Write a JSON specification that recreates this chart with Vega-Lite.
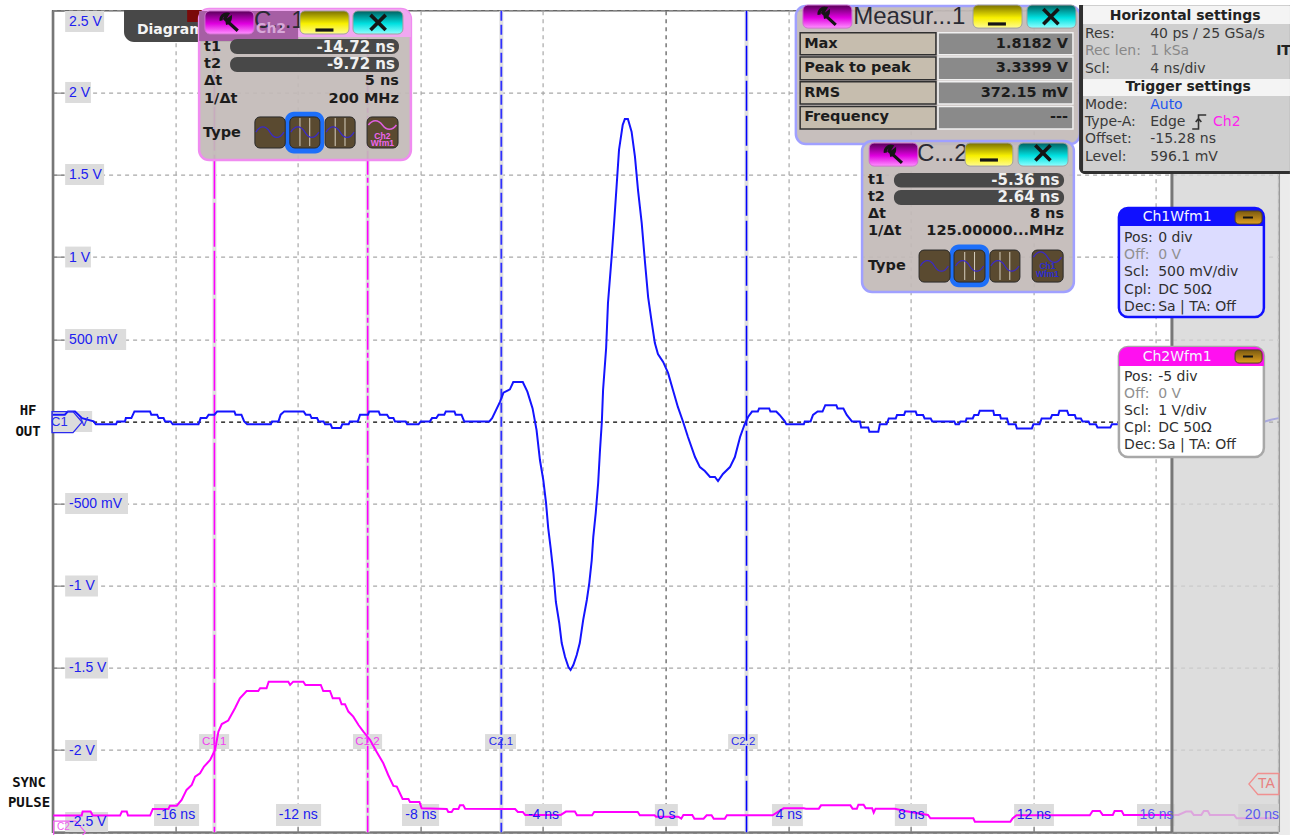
{
"$schema":"https://vega.github.io/schema/vega-lite/v6.json",
"width":1226,"height":821.5,"autosize":"none",
"padding":{"left":52.6,"top":10.65,"right":11.4,"bottom":2.85},
"background":"#ffffff",
"config":{"view":{"stroke":"#666666","strokeWidth":1.5}},
"datasets":{
"waves":[
{"series":"Ch1","t":-20,"v":0.041},{"series":"Ch1","t":-19.6,"v":0.041},{"series":"Ch1","t":-19.5,"v":0.061},{"series":"Ch1","t":-19.27,"v":0.061},{"series":"Ch1","t":-19.04,"v":0.02},{"series":"Ch1","t":-18.66,"v":0},{"series":"Ch1","t":-18.59,"v":-0.018},{"series":"Ch1","t":-17.93,"v":-0.018},{"series":"Ch1","t":-17.89,"v":0},{"series":"Ch1","t":-17.64,"v":0},{"series":"Ch1","t":-17.61,"v":0.02},{"series":"Ch1","t":-17.43,"v":0.02},{"series":"Ch1","t":-17.33,"v":0.061},{"series":"Ch1","t":-16.82,"v":0.061},{"series":"Ch1","t":-16.78,"v":0.041},{"series":"Ch1","t":-16.59,"v":0.041},{"series":"Ch1","t":-16.54,"v":0.02},{"series":"Ch1","t":-16.38,"v":0.02},{"series":"Ch1","t":-16.33,"v":0},{"series":"Ch1","t":-16.15,"v":0},{"series":"Ch1","t":-16.08,"v":-0.018},{"series":"Ch1","t":-15.24,"v":-0.018},{"series":"Ch1","t":-15.17,"v":0.02},{"series":"Ch1","t":-14.98,"v":0.02},{"series":"Ch1","t":-14.91,"v":0.041},{"series":"Ch1","t":-14.72,"v":0.041},{"series":"Ch1","t":-14.63,"v":0.061},{"series":"Ch1","t":-14.07,"v":0.061},{"series":"Ch1","t":-14.03,"v":0.041},{"series":"Ch1","t":-13.84,"v":0.041},{"series":"Ch1","t":-13.75,"v":0},{"series":"Ch1","t":-13.65,"v":-0.018},{"series":"Ch1","t":-12.88,"v":-0.018},{"series":"Ch1","t":-12.84,"v":0},{"series":"Ch1","t":-12.63,"v":0},{"series":"Ch1","t":-12.56,"v":0.041},{"series":"Ch1","t":-12.44,"v":0.061},{"series":"Ch1","t":-11.81,"v":0.061},{"series":"Ch1","t":-11.74,"v":0.041},{"series":"Ch1","t":-11.6,"v":0.041},{"series":"Ch1","t":-11.55,"v":0.02},{"series":"Ch1","t":-11.37,"v":0.02},{"series":"Ch1","t":-11.32,"v":0},{"series":"Ch1","t":-11.16,"v":0},{"series":"Ch1","t":-11.11,"v":-0.018},{"series":"Ch1","t":-10.93,"v":-0.018},{"series":"Ch1","t":-10.88,"v":-0.04},{"series":"Ch1","t":-10.6,"v":-0.04},{"series":"Ch1","t":-10.55,"v":-0.018},{"series":"Ch1","t":-10.34,"v":-0.018},{"series":"Ch1","t":-10.3,"v":0},{"series":"Ch1","t":-10.04,"v":0},{"series":"Ch1","t":-9.97,"v":0.041},{"series":"Ch1","t":-9.71,"v":0.041},{"series":"Ch1","t":-9.67,"v":0.061},{"series":"Ch1","t":-9.36,"v":0.061},{"series":"Ch1","t":-9.32,"v":0.041},{"series":"Ch1","t":-9.09,"v":0.041},{"series":"Ch1","t":-9.02,"v":0.02},{"series":"Ch1","t":-8.88,"v":0.02},{"series":"Ch1","t":-8.83,"v":0},{"series":"Ch1","t":-8.48,"v":0},{"series":"Ch1","t":-8.43,"v":-0.018},{"series":"Ch1","t":-8.06,"v":-0.018},{"series":"Ch1","t":-7.99,"v":0},{"series":"Ch1","t":-7.69,"v":0},{"series":"Ch1","t":-7.62,"v":0.02},{"series":"Ch1","t":-7.48,"v":0.02},{"series":"Ch1","t":-7.41,"v":0.041},{"series":"Ch1","t":-7.22,"v":0.041},{"series":"Ch1","t":-7.17,"v":0.061},{"series":"Ch1","t":-6.89,"v":0.061},{"series":"Ch1","t":-6.85,"v":0.041},{"series":"Ch1","t":-6.66,"v":0.041},{"series":"Ch1","t":-6.57,"v":0},{"series":"Ch1","t":-5.75,"v":0},{"series":"Ch1","t":-5.66,"v":0.02},
{"series":"Ch1","t":-5.4,"v":0.12},{"series":"Ch1","t":-5.29,"v":0.175},{"series":"Ch1","t":-5.08,"v":0.195},{"series":"Ch1","t":-4.97,"v":0.24},{"series":"Ch1","t":-4.66,"v":0.24},{"series":"Ch1","t":-4.51,"v":0.181},{"series":"Ch1","t":-4.34,"v":0.079},{"series":"Ch1","t":-4.21,"v":-0.053},{"series":"Ch1","t":-4.1,"v":-0.235},{"series":"Ch1","t":-3.99,"v":-0.357},{"series":"Ch1","t":-3.9,"v":-0.497},{"series":"Ch1","t":-3.83,"v":-0.649},{"series":"Ch1","t":-3.75,"v":-0.771},{"series":"Ch1","t":-3.66,"v":-0.923},{"series":"Ch1","t":-3.58,"v":-1.099},{"series":"Ch1","t":-3.47,"v":-1.227},{"series":"Ch1","t":-3.39,"v":-1.349},{"series":"Ch1","t":-3.28,"v":-1.434},{"series":"Ch1","t":-3.17,"v":-1.495},{"series":"Ch1","t":-3.1,"v":-1.513},{"series":"Ch1","t":-3.01,"v":-1.483},{"series":"Ch1","t":-2.9,"v":-1.422},{"series":"Ch1","t":-2.8,"v":-1.349},{"series":"Ch1","t":-2.69,"v":-1.209},{"series":"Ch1","t":-2.57,"v":-1.087},{"series":"Ch1","t":-2.49,"v":-0.984},{"series":"Ch1","t":-2.41,"v":-0.844},{"series":"Ch1","t":-2.36,"v":-0.704},{"series":"Ch1","t":-2.28,"v":-0.558},{"series":"Ch1","t":-2.2,"v":-0.375},{"series":"Ch1","t":-2.14,"v":-0.174},{"series":"Ch1","t":-2.08,"v":-0.002},{"series":"Ch1","t":-2.04,"v":0.191},{"series":"Ch1","t":-1.94,"v":0.447},{"series":"Ch1","t":-1.88,"v":0.721},{"series":"Ch1","t":-1.76,"v":1.002},{"series":"Ch1","t":-1.68,"v":1.208},{"series":"Ch1","t":-1.6,"v":1.428},{"series":"Ch1","t":-1.52,"v":1.652},{"series":"Ch1","t":-1.4,"v":1.804},{"series":"Ch1","t":-1.33,"v":1.84},{"series":"Ch1","t":-1.23,"v":1.84},{"series":"Ch1","t":-1.11,"v":1.763},{"series":"Ch1","t":-1,"v":1.611},{"series":"Ch1","t":-0.9,"v":1.408},{"series":"Ch1","t":-0.78,"v":1.208},{"series":"Ch1","t":-0.67,"v":0.964},{"series":"Ch1","t":-0.57,"v":0.757},{"series":"Ch1","t":-0.45,"v":0.599},{"series":"Ch1","t":-0.35,"v":0.477},{"series":"Ch1","t":-0.25,"v":0.41},{"series":"Ch1","t":-0.08,"v":0.362},{"series":"Ch1","t":0.08,"v":0.295},{"series":"Ch1","t":0.24,"v":0.191},{"series":"Ch1","t":0.4,"v":0.088},{"series":"Ch1","t":0.57,"v":-0.002},{"series":"Ch1","t":0.73,"v":-0.095},{"series":"Ch1","t":0.96,"v":-0.217},{"series":"Ch1","t":1.12,"v":-0.278},{"series":"Ch1","t":1.28,"v":-0.302},{"series":"Ch1","t":1.45,"v":-0.338},{"series":"Ch1","t":1.61,"v":-0.338},{"series":"Ch1","t":1.71,"v":-0.363},{"series":"Ch1","t":1.87,"v":-0.32},{"series":"Ch1","t":2.1,"v":-0.278},{"series":"Ch1","t":2.26,"v":-0.217},{"series":"Ch1","t":2.43,"v":-0.095},{"series":"Ch1","t":2.57,"v":-0.022},{"series":"Ch1","t":2.69,"v":0.027},{"series":"Ch1","t":2.82,"v":0.06},
{"series":"Ch1","t":3.01,"v":0.06},{"series":"Ch1","t":3.05,"v":0.079},{"series":"Ch1","t":3.38,"v":0.079},{"series":"Ch1","t":3.42,"v":0.06},{"series":"Ch1","t":3.61,"v":0.06},{"series":"Ch1","t":3.72,"v":0.039},{"series":"Ch1","t":3.89,"v":0},{"series":"Ch1","t":3.94,"v":-0.018},{"series":"Ch1","t":4.51,"v":-0.018},{"series":"Ch1","t":4.54,"v":0},{"series":"Ch1","t":4.73,"v":0},{"series":"Ch1","t":4.81,"v":0.039},{"series":"Ch1","t":4.96,"v":0.06},{"series":"Ch1","t":5.12,"v":0.06},{"series":"Ch1","t":5.21,"v":0.099},{"series":"Ch1","t":5.57,"v":0.099},{"series":"Ch1","t":5.61,"v":0.079},{"series":"Ch1","t":5.8,"v":0.079},{"series":"Ch1","t":5.91,"v":0.039},{"series":"Ch1","t":6.08,"v":0},{"series":"Ch1","t":6.34,"v":0},{"series":"Ch1","t":6.38,"v":-0.037},{"series":"Ch1","t":6.61,"v":-0.037},{"series":"Ch1","t":6.65,"v":-0.063},{"series":"Ch1","t":6.94,"v":-0.063},{"series":"Ch1","t":6.99,"v":-0.018},{"series":"Ch1","t":7.21,"v":-0.018},{"series":"Ch1","t":7.28,"v":0.018},{"series":"Ch1","t":7.51,"v":0.018},{"series":"Ch1","t":7.55,"v":0.039},{"series":"Ch1","t":7.78,"v":0.039},{"series":"Ch1","t":7.82,"v":0.06},{"series":"Ch1","t":8.16,"v":0.06},{"series":"Ch1","t":8.2,"v":0.039},{"series":"Ch1","t":8.4,"v":0.039},{"series":"Ch1","t":8.45,"v":0.018},{"series":"Ch1","t":8.65,"v":0.018},{"series":"Ch1","t":8.7,"v":0},{"series":"Ch1","t":9.42,"v":0},{"series":"Ch1","t":9.46,"v":-0.018},{"series":"Ch1","t":9.57,"v":-0.018},{"series":"Ch1","t":9.62,"v":0},{"series":"Ch1","t":9.79,"v":0},{"series":"Ch1","t":9.82,"v":0.018},{"series":"Ch1","t":10.02,"v":0.018},{"series":"Ch1","t":10.07,"v":0.039},{"series":"Ch1","t":10.2,"v":0.039},{"series":"Ch1","t":10.25,"v":0.065},{"series":"Ch1","t":10.69,"v":0.065},{"series":"Ch1","t":10.72,"v":0.039},{"series":"Ch1","t":10.91,"v":0.039},{"series":"Ch1","t":10.94,"v":0.018},{"series":"Ch1","t":11.14,"v":0.018},{"series":"Ch1","t":11.19,"v":-0.018},{"series":"Ch1","t":11.42,"v":-0.018},{"series":"Ch1","t":11.46,"v":-0.043},{"series":"Ch1","t":11.95,"v":-0.043},{"series":"Ch1","t":12,"v":-0.018},{"series":"Ch1","t":12.2,"v":-0.018},{"series":"Ch1","t":12.27,"v":0.018},{"series":"Ch1","t":12.56,"v":0.018},{"series":"Ch1","t":12.61,"v":0.039},{"series":"Ch1","t":12.81,"v":0.039},{"series":"Ch1","t":12.85,"v":0.065},{"series":"Ch1","t":13.1,"v":0.065},{"series":"Ch1","t":13.15,"v":0.039},{"series":"Ch1","t":13.35,"v":0.039},{"series":"Ch1","t":13.39,"v":0.018},{"series":"Ch1","t":13.55,"v":0.018},{"series":"Ch1","t":13.6,"v":0},{"series":"Ch1","t":13.8,"v":0},{"series":"Ch1","t":13.84,"v":-0.018},{"series":"Ch1","t":14.04,"v":-0.018},{"series":"Ch1","t":14.09,"v":-0.037},{"series":"Ch1","t":14.51,"v":-0.037},{"series":"Ch1","t":14.56,"v":-0.018},{"series":"Ch1","t":14.79,"v":-0.018},{"series":"Ch1","t":19.5,"v":-0.004},{"series":"Ch1","t":19.75,"v":0.01},{"series":"Ch1","t":20,"v":0.02},
{"series":"Ch2","t":-19.98,"v":-2.399},{"series":"Ch2","t":-19.05,"v":-2.399},{"series":"Ch2","t":-19.02,"v":-2.375},{"series":"Ch2","t":-18.76,"v":-2.375},{"series":"Ch2","t":-18.69,"v":-2.399},{"series":"Ch2","t":-17.8,"v":-2.399},{"series":"Ch2","t":-17.74,"v":-2.375},{"series":"Ch2","t":-17.58,"v":-2.375},{"series":"Ch2","t":-17.54,"v":-2.399},{"series":"Ch2","t":-16.82,"v":-2.399},{"series":"Ch2","t":-16.73,"v":-2.359},{"series":"Ch2","t":-16.22,"v":-2.359},{"series":"Ch2","t":-16.17,"v":-2.339},{"series":"Ch2","t":-15.95,"v":-2.339},{"series":"Ch2","t":-15.79,"v":-2.304},{"series":"Ch2","t":-15.63,"v":-2.243},{"series":"Ch2","t":-15.46,"v":-2.213},{"series":"Ch2","t":-15.35,"v":-2.162},{"series":"Ch2","t":-15.19,"v":-2.142},{"series":"Ch2","t":-15.06,"v":-2.101},{"series":"Ch2","t":-14.86,"v":-2.061},{"series":"Ch2","t":-14.7,"v":-2},{"series":"Ch2","t":-14.59,"v":-1.888},{"series":"Ch2","t":-14.48,"v":-1.842},{"series":"Ch2","t":-14.27,"v":-1.821},{"series":"Ch2","t":-14.05,"v":-1.746},{"series":"Ch2","t":-13.89,"v":-1.685},{"series":"Ch2","t":-13.67,"v":-1.641},{"series":"Ch2","t":-13.29,"v":-1.641},{"series":"Ch2","t":-13.23,"v":-1.624},{"series":"Ch2","t":-13.02,"v":-1.624},{"series":"Ch2","t":-12.95,"v":-1.584},{"series":"Ch2","t":-12.31,"v":-1.584},{"series":"Ch2","t":-12.25,"v":-1.604},{"series":"Ch2","t":-12.15,"v":-1.584},{"series":"Ch2","t":-11.82,"v":-1.584},{"series":"Ch2","t":-11.75,"v":-1.604},{"series":"Ch2","t":-11.25,"v":-1.604},{"series":"Ch2","t":-11.17,"v":-1.641},{"series":"Ch2","t":-10.95,"v":-1.641},{"series":"Ch2","t":-10.86,"v":-1.685},{"series":"Ch2","t":-10.64,"v":-1.685},{"series":"Ch2","t":-10.57,"v":-1.722},{"series":"Ch2","t":-10.46,"v":-1.722},{"series":"Ch2","t":-10.35,"v":-1.766},{"series":"Ch2","t":-10.19,"v":-1.797},{"series":"Ch2","t":-10.02,"v":-1.848},{"series":"Ch2","t":-9.86,"v":-1.888},{"series":"Ch2","t":-9.64,"v":-1.939},{"series":"Ch2","t":-9.43,"v":-2.01},{"series":"Ch2","t":-9.21,"v":-2.081},{"series":"Ch2","t":-9.05,"v":-2.152},{"series":"Ch2","t":-8.88,"v":-2.219},{"series":"Ch2","t":-8.77,"v":-2.223},{"series":"Ch2","t":-8.58,"v":-2.298},{"series":"Ch2","t":-8.39,"v":-2.298},{"series":"Ch2","t":-8.34,"v":-2.316},{"series":"Ch2","t":-8.03,"v":-2.316},{"series":"Ch2","t":-7.96,"v":-2.355},{"series":"Ch2","t":-7.14,"v":-2.359},{"series":"Ch2","t":-7.09,"v":-2.377},{"series":"Ch2","t":-6.98,"v":-2.377},{"series":"Ch2","t":-6.92,"v":-2.359},{"series":"Ch2","t":-6.76,"v":-2.359},{"series":"Ch2","t":-6.71,"v":-2.337},{"series":"Ch2","t":-6.6,"v":-2.337},{"series":"Ch2","t":-6.54,"v":-2.357},{"series":"Ch2","t":-4.91,"v":-2.359},{"series":"Ch2","t":-4.82,"v":-2.377},{"series":"Ch2","t":-4.66,"v":-2.377},{"series":"Ch2","t":-4.58,"v":-2.395},{"series":"Ch2","t":-3.42,"v":-2.395},{"series":"Ch2","t":-3.25,"v":-2.375},{"series":"Ch2","t":-2.96,"v":-2.375},{"series":"Ch2","t":-2.89,"v":-2.397},{"series":"Ch2","t":-2.4,"v":-2.397},{"series":"Ch2","t":-2.33,"v":-2.377},{"series":"Ch2","t":-0.91,"v":-2.377},{"series":"Ch2","t":-0.84,"v":-2.397},{"series":"Ch2","t":-0.36,"v":-2.397},{"series":"Ch2","t":-0.31,"v":-2.406},{"series":"Ch2","t":0.41,"v":-2.406},{"series":"Ch2","t":0.51,"v":-2.418},{"series":"Ch2","t":0.58,"v":-2.395},{"series":"Ch2","t":0.87,"v":-2.395},{"series":"Ch2","t":0.94,"v":-2.418},{"series":"Ch2","t":1.24,"v":-2.418},{"series":"Ch2","t":1.34,"v":-2.397},{"series":"Ch2","t":1.5,"v":-2.397},{"series":"Ch2","t":1.57,"v":-2.418},{"series":"Ch2","t":1.93,"v":-2.418},{"series":"Ch2","t":2,"v":-2.397},{"series":"Ch2","t":3.49,"v":-2.397},{"series":"Ch2","t":3.85,"v":-2.355},{"series":"Ch2","t":4.51,"v":-2.355},{"series":"Ch2","t":4.58,"v":-2.357},{"series":"Ch2","t":5,"v":-2.357},{"series":"Ch2","t":5.07,"v":-2.337},{"series":"Ch2","t":6.03,"v":-2.337},{"series":"Ch2","t":6.1,"v":-2.357},{"series":"Ch2","t":6.24,"v":-2.357},{"series":"Ch2","t":6.29,"v":-2.333},{"series":"Ch2","t":6.46,"v":-2.333},{"series":"Ch2","t":6.53,"v":-2.355},{"series":"Ch2","t":6.74,"v":-2.355},{"series":"Ch2","t":6.79,"v":-2.381},{"series":"Ch2","t":6.85,"v":-2.357},{"series":"Ch2","t":7.48,"v":-2.357},{"series":"Ch2","t":7.81,"v":-2.371},{"series":"Ch2","t":8.56,"v":-2.395},{"series":"Ch2","t":8.64,"v":-2.416},{"series":"Ch2","t":10.04,"v":-2.416},{"series":"Ch2","t":10.09,"v":-2.436},{"series":"Ch2","t":11.25,"v":-2.436},{"series":"Ch2","t":11.32,"v":-2.416},{"series":"Ch2","t":11.45,"v":-2.397},{"series":"Ch2","t":13.84,"v":-2.397},{"series":"Ch2","t":13.93,"v":-2.371},{"series":"Ch2","t":14.17,"v":-2.371},{"series":"Ch2","t":14.26,"v":-2.395},{"series":"Ch2","t":14.59,"v":-2.395},{"series":"Ch2","t":14.65,"v":-2.371},{"series":"Ch2","t":14.88,"v":-2.371},{"series":"Ch2","t":14.95,"v":-2.395},{"series":"Ch2","t":16.73,"v":-2.395},{"series":"Ch2","t":16.98,"v":-2.375},{"series":"Ch2","t":17.15,"v":-2.375},{"series":"Ch2","t":17.23,"v":-2.395},{"series":"Ch2","t":17.48,"v":-2.395},{"series":"Ch2","t":17.56,"v":-2.371},{"series":"Ch2","t":17.69,"v":-2.371},{"series":"Ch2","t":17.76,"v":-2.395},{"series":"Ch2","t":18.55,"v":-2.395},{"series":"Ch2","t":18.63,"v":-2.416},{"series":"Ch2","t":19.96,"v":-2.416}
],
"boxes":[
{"kind":"tag","t":-19.59,"t2":-18.32,"v":2.498,"v2":2.37},{"kind":"tag","t":-19.59,"t2":-18.75,"v":2.066,"v2":1.938},{"kind":"tag","t":-19.59,"t2":-18.32,"v":1.567,"v2":1.439},{"kind":"tag","t":-19.59,"t2":-18.75,"v":1.064,"v2":0.937},{"kind":"tag","t":-19.59,"t2":-17.6,"v":0.562,"v2":0.435},{"kind":"tag","t":-19.59,"t2":-17.54,"v":-0.436,"v2":-0.564},{"kind":"tag","t":-19.59,"t2":-18.52,"v":-0.938,"v2":-1.066},{"kind":"tag","t":-19.59,"t2":-18.19,"v":-1.437,"v2":-1.565},{"kind":"tag","t":-19.59,"t2":-18.55,"v":-1.939,"v2":-2.067},{"kind":"tag","t":-19.59,"t2":-18.19,"v":-2.377,"v2":-2.499},
{"kind":"tag","t":-16.69,"t2":-15.22,"v":-2.329,"v2":-2.463},{"kind":"tag","t":-12.71,"t2":-11.24,"v":-2.329,"v2":-2.463},{"kind":"tag","t":-8.6,"t2":-7.39,"v":-2.329,"v2":-2.463},{"kind":"tag","t":-4.59,"t2":-3.38,"v":-2.329,"v2":-2.463},{"kind":"tag","t":-0.35,"t2":0.4,"v":-2.329,"v2":-2.463},{"kind":"tag","t":3.47,"t2":4.48,"v":-2.329,"v2":-2.463},{"kind":"tag","t":7.48,"t2":8.53,"v":-2.329,"v2":-2.463},{"kind":"tag","t":11.37,"t2":12.67,"v":-2.329,"v2":-2.463},{"kind":"tag","t":15.38,"t2":16.62,"v":-2.329,"v2":-2.463},{"kind":"tag","t":18.68,"t2":20,"v":-2.329,"v2":-2.463},
{"kind":"tag","t":-15.22,"t2":-14.24,"v":-1.903,"v2":-1.994},{"kind":"tag","t":-10.2,"t2":-9.25,"v":-1.903,"v2":-1.994},{"kind":"tag","t":-5.89,"t2":-4.88,"v":-1.903,"v2":-1.994},{"kind":"tag","t":2.04,"t2":3.01,"v":-1.903,"v2":-1.994},{"kind":"tag","t":-19.99,"t2":-18.71,"v":0.063,"v2":-0.065},
{"kind":"shade","t":16.52,"t2":20,"v":1.512,"v2":-2.5},
{"kind":"margin","t":20,"t2":20.37,"v":1.512,"v2":-2.517},
{"kind":"tab","t":-17.67,"t2":-11.99,"v":2.504,"v2":2.309},
{"kind":"notch","t":-15.61,"t2":-15.03,"v":2.504,"v2":2.431},
{"kind":"bodyA","t":-15.22,"t2":-8.31,"v":2.51,"v2":1.591},
{"kind":"stripA","t":-15.22,"t2":-8.31,"v":2.51,"v2":2.34},
{"kind":"bandA","t":-15.22,"t2":-11.99,"v":2.498,"v2":2.315},
{"kind":"bodyB","t":4.25,"t2":13.52,"v":2.528,"v2":1.688},
{"kind":"bodyB","t":6.41,"t2":13.32,"v":1.707,"v2":0.788},
{"kind":"cellL","t":4.39,"t2":8.82,"v":2.366,"v2":2.231},{"kind":"cellL","t":4.39,"t2":8.82,"v":2.218,"v2":2.08},{"kind":"cellL","t":4.39,"t2":8.82,"v":2.068,"v2":1.932},{"kind":"cellL","t":4.39,"t2":8.82,"v":1.917,"v2":1.78},
{"kind":"cellV","t":8.89,"t2":13.29,"v":2.366,"v2":2.231},{"kind":"cellV","t":8.89,"t2":13.29,"v":2.218,"v2":2.08},{"kind":"cellV","t":8.89,"t2":13.29,"v":2.068,"v2":1.932},{"kind":"cellV","t":8.89,"t2":13.29,"v":1.917,"v2":1.78},
{"kind":"pill","t":-14.21,"t2":-8.7,"v":2.327,"v2":2.236},{"kind":"pill","t":-14.21,"t2":-8.7,"v":2.218,"v2":2.127},{"kind":"pill","t":7.45,"t2":13,"v":1.512,"v2":1.424},{"kind":"pill","t":7.45,"t2":13,"v":1.408,"v2":1.317},
{"kind":"wrench","t":-15.03,"t2":-13.43,"v":2.498,"v2":2.358},{"kind":"wrench","t":4.48,"t2":6.08,"v":2.534,"v2":2.394},{"kind":"wrench","t":6.64,"t2":8.23,"v":1.694,"v2":1.554},
{"kind":"yellow","t":-11.93,"t2":-10.33,"v":2.498,"v2":2.358},{"kind":"yellow","t":10.03,"t2":11.63,"v":2.534,"v2":2.394},{"kind":"yellow","t":9.77,"t2":11.33,"v":1.694,"v2":1.554},
{"kind":"cyan","t":-10.2,"t2":-8.57,"v":2.498,"v2":2.358},{"kind":"cyan","t":11.79,"t2":13.39,"v":2.534,"v2":2.394},{"kind":"cyan","t":11.5,"t2":13.13,"v":1.694,"v2":1.554},
{"kind":"glow","t":-12.42,"t2":-11.14,"v":1.885,"v2":1.631},{"kind":"glow","t":9.27,"t2":10.56,"v":1.076,"v2":0.816},
{"kind":"icon","t":-13.4,"t2":-12.41,"v":1.853,"v2":1.664},{"kind":"icon","t":-12.26,"t2":-11.28,"v":1.853,"v2":1.664},{"kind":"icon","t":-11.11,"t2":-10.13,"v":1.853,"v2":1.664},{"kind":"icon","t":-9.74,"t2":-8.73,"v":1.853,"v2":1.664},
{"kind":"icon","t":8.27,"t2":9.28,"v":1.043,"v2":0.848},{"kind":"icon","t":9.41,"t2":10.42,"v":1.043,"v2":0.848},{"kind":"icon","t":10.58,"t2":11.56,"v":1.043,"v2":0.848},{"kind":"icon","t":11.96,"t2":12.97,"v":1.043,"v2":0.848},
{"kind":"frame","t":13.49,"t2":20.37,"v":2.534,"v2":1.506},
{"kind":"settings","t":13.62,"t2":20.37,"v":2.534,"v2":1.524},
{"kind":"header","t":13.62,"t2":20.37,"v":2.528,"v2":2.419},{"kind":"header","t":13.62,"t2":20.37,"v":2.084,"v2":1.981},
{"kind":"ch1body","t":14.79,"t2":19.52,"v":1.299,"v2":0.635},
{"kind":"ch1head","t":14.79,"t2":19.52,"v":1.299,"v2":1.189},
{"kind":"ch2body","t":14.79,"t2":19.52,"v":0.453,"v2":-0.217},
{"kind":"ch2head","t":14.79,"t2":19.52,"v":0.453,"v2":0.337},
{"kind":"gold","t":18.58,"t2":19.46,"v":1.281,"v2":1.201},{"kind":"gold","t":18.58,"t2":19.46,"v":0.435,"v2":0.355}
]
},
"layer":[
{"data":{"name":"boxes"},"transform":[{"filter":"datum.kind=='tag'"}],"mark":{"type":"rect","fill":"#dcdcdc"},
 "encoding":{
  "x":{"field":"t","type":"quantitative","title":null,"scale":{"domain":[-20,20],"nice":false,"zero":false},
   "axis":{"orient":"bottom","values":[-16,-12,-8,-4,0,4,8,12,16,20],"labels":false,"ticks":true,"tickSize":-6,"tickColor":"#777777","grid":true,"gridDash":[4,4],"gridWidth":1.2,"gridColor":{"condition":{"test":"datum.value===0","value":"#555555"},"value":"#a8a8a8"},"domainColor":"#777777","domainWidth":2,"title":null}},
  "y":{"field":"v","type":"quantitative","title":null,"scale":{"domain":[-2.5,2.5],"nice":false,"zero":false},
   "axis":{"orient":"left","values":[-2.5,-2,-1.5,-1,-0.5,0,0.5,1,1.5,2,2.5],"labels":false,"ticks":true,"tickSize":-11,"tickColor":"#777777","grid":true,"gridDash":[4,4],"gridWidth":1.2,"gridColor":{"condition":{"test":"datum.value===0","value":"#000000"},"value":"#a8a8a8"},"domainColor":"#777777","domainWidth":2.5,"title":null}},
  "x2":{"field":"t2"},"y2":{"field":"v2"}}},
{"data":{"values":[{"t":-14.72,"v":2.5,"v2":-2.5},{"t":-9.72,"v":2.5,"v2":-2.5},{"t":-5.36,"v":2.5,"v2":-2.5},{"t":2.64,"v":2.5,"v2":-2.5}]},"mark":{"type":"rule","stroke":"#e0e0e0","strokeWidth":4},"encoding":{"y2":{"field":"v2"}}},
{"data":{"values":[{"t":-14.72,"v":2.5,"v2":-2.5}]},"mark":{"type":"rule","stroke":"#ff00ff","strokeWidth":1.6,"strokeDash":[44,4]},"encoding":{"y2":{"field":"v2"}}},
{"data":{"values":[{"t":-9.72,"v":2.5,"v2":-2.5}]},"mark":{"type":"rule","stroke":"#ff00ff","strokeWidth":1.6,"strokeDash":[24,3,5,3]},"encoding":{"y2":{"field":"v2"}}},
{"data":{"values":[{"t":-5.36,"v":2.5,"v2":-2.5}]},"mark":{"type":"rule","stroke":"#3030ff","strokeWidth":1.8,"strokeDash":[10,4]},"encoding":{"y2":{"field":"v2"}}},
{"data":{"values":[{"t":2.64,"v":2.5,"v2":-2.5}]},"mark":{"type":"rule","stroke":"#0000ff","strokeWidth":1.6,"strokeDash":[30,5]},"encoding":{"y2":{"field":"v2"}}},
{"data":{"name":"waves"},"mark":{"type":"line","strokeWidth":2,"interpolate":"linear","clip":true},"encoding":{"color":{"field":"series","type":"nominal","legend":null,"scale":{"domain":["Ch1","Ch2"],"range":["#1414ff","#ff00ff"]}}}},
{"data":{"name":"boxes"},"transform":[{"filter":"datum.kind=='shade'"}],"mark":{"type":"rect","fill":"#d4d4d4","opacity":0.78},"encoding":{"x2":{"field":"t2"},"y2":{"field":"v2"}}},
{"data":{"name":"boxes"},"transform":[{"filter":"datum.kind=='margin'"}],"mark":{"type":"rect","fill":"#ebebeb"},"encoding":{"x2":{"field":"t2"},"y2":{"field":"v2"}}},
{"data":{"values":[{"t":16.52,"v":1.512,"v2":-2.5}]},"mark":{"type":"rule","stroke":"#777777","strokeWidth":3},"encoding":{"y2":{"field":"v2"}}},
{"data":{"values":[{"t":20.03,"v":1.512,"v2":-2.5}]},"mark":{"type":"rule","stroke":"#999999","strokeWidth":1},"encoding":{"y2":{"field":"v2"}}},
{"data":{"name":"boxes"},"transform":[{"filter":"datum.kind=='tab'"}],"mark":{"type":"rect","fill":"#484848","cornerRadiusBottomLeft":10},"encoding":{"x2":{"field":"t2"},"y2":{"field":"v2"}}},
{"data":{"name":"boxes"},"transform":[{"filter":"datum.kind=='notch'"}],"mark":{"type":"rect","fill":"#7a0a0a"},"encoding":{"x2":{"field":"t2"},"y2":{"field":"v2"}}},
{"data":{"values":[{"t":-17.25,"v":2.382,"label":"Diagram"}]},"mark":{"type":"text","font":"DejaVu Sans","fontSize":14,"fontWeight":"bold","align":"left","baseline":"middle","color":"#f4f4f4"},"encoding":{"text":{"field":"label"}}},
{"data":{"name":"boxes"},"transform":[{"filter":"datum.kind=='bodyA'"}],"mark":{"type":"rect","fill":"#c2bab7","fillOpacity":0.92,"stroke":"#f08cf0","strokeWidth":2.5,"cornerRadius":10},"encoding":{"x2":{"field":"t2"},"y2":{"field":"v2"}}},
{"data":{"name":"boxes"},"transform":[{"filter":"datum.kind=='stripA'"}],"mark":{"type":"rect","fill":"#f0a8f0","cornerRadiusTopLeft":10,"cornerRadiusTopRight":10},"encoding":{"x2":{"field":"t2"},"y2":{"field":"v2"}}},
{"data":{"name":"boxes"},"transform":[{"filter":"datum.kind=='bandA'"}],"mark":{"type":"rect","fill":"#a65fa4"},"encoding":{"x2":{"field":"t2"},"y2":{"field":"v2"}}},
{"data":{"name":"boxes"},"transform":[{"filter":"datum.kind=='bodyB'"}],"mark":{"type":"rect","fill":"#c2bab7","fillOpacity":0.92,"stroke":"#a0a0ff","strokeWidth":2.5,"cornerRadius":10},"encoding":{"x2":{"field":"t2"},"y2":{"field":"v2"}}},
{"data":{"name":"boxes"},"transform":[{"filter":"datum.kind=='frame'"}],"mark":{"type":"rect","fill":"#303030","cornerRadiusBottomLeft":6},"encoding":{"x2":{"field":"t2"},"y2":{"field":"v2"}}},
{"data":{"name":"boxes"},"transform":[{"filter":"datum.kind=='settings'"}],"mark":{"type":"rect","fill":"#cfcfcf"},"encoding":{"x2":{"field":"t2"},"y2":{"field":"v2"}}},
{"data":{"name":"boxes"},"transform":[{"filter":"datum.kind=='header'"}],"mark":{"type":"rect","fill":"#f4f4f4"},"encoding":{"x2":{"field":"t2"},"y2":{"field":"v2"}}},
{"data":{"name":"boxes"},"transform":[{"filter":"datum.kind=='cellL'"}],"mark":{"type":"rect","fill":"#c6bdae","stroke":"#303030","strokeWidth":1.5},"encoding":{"x2":{"field":"t2"},"y2":{"field":"v2"}}},
{"data":{"name":"boxes"},"transform":[{"filter":"datum.kind=='cellV'"}],"mark":{"type":"rect","fill":"#8a8a8a","stroke":"#f0f0f0","strokeWidth":1.5},"encoding":{"x2":{"field":"t2"},"y2":{"field":"v2"}}},
{"data":{"name":"boxes"},"transform":[{"filter":"datum.kind=='pill'"}],"mark":{"type":"rect","fill":"#484848","cornerRadius":7},"encoding":{"x2":{"field":"t2"},"y2":{"field":"v2"}}},
{"data":{"values":[{"t":-13.43,"v":2.437,"label":"C...1"},{"t":6.12,"v":2.461,"label":"Measur...1"},{"t":8.2,"v":1.628,"label":"C...2"}]},"mark":{"type":"text","font":"Liberation Sans","fontSize":24,"align":"left","baseline":"middle","color":"#2a2a33"},"encoding":{"text":{"field":"label"}}},
{"data":{"values":[{"t":-13.36,"v":2.388,"label":"Ch2"}]},"mark":{"type":"text","font":"DejaVu Sans","fontSize":14,"fontWeight":"bold","align":"left","baseline":"middle","color":"#d8a8d8"},"encoding":{"text":{"field":"label"}}},
{"data":{"name":"boxes"},"transform":[{"filter":"datum.kind=='wrench'"}],"mark":{"type":"rect","cornerRadius":5,"stroke":"#d070d0","strokeWidth":1,"fill":{"gradient":"linear","x1":0,"y1":0,"x2":0,"y2":1,"stops":[{"offset":0,"color":"#580058"},{"offset":0.55,"color":"#e000e0"},{"offset":1,"color":"#ff90ff"}]}},"encoding":{"x2":{"field":"t2"},"y2":{"field":"v2"}}},
{"data":{"name":"boxes"},"transform":[{"filter":"datum.kind=='yellow'"}],"mark":{"type":"rect","cornerRadius":5,"stroke":"#a0a0a0","strokeWidth":1,"fill":{"gradient":"linear","x1":0,"y1":0,"x2":0,"y2":1,"stops":[{"offset":0,"color":"#7a7000"},{"offset":0.55,"color":"#f8f000"},{"offset":1,"color":"#fffc90"}]}},"encoding":{"x2":{"field":"t2"},"y2":{"field":"v2"}}},
{"data":{"name":"boxes"},"transform":[{"filter":"datum.kind=='cyan'"}],"mark":{"type":"rect","cornerRadius":5,"stroke":"#a0a0a0","strokeWidth":1,"fill":{"gradient":"linear","x1":0,"y1":0,"x2":0,"y2":1,"stops":[{"offset":0,"color":"#006060"},{"offset":0.55,"color":"#00e0e0"},{"offset":1,"color":"#90ffff"}]}},"encoding":{"x2":{"field":"t2"},"y2":{"field":"v2"}}},
{"data":{"values":[{"t":-14.23,"v":2.428},{"t":5.28,"v":2.464},{"t":7.44,"v":1.624}]},"mark":{"type":"point","shape":"M-0.9,-0.2 A0.6,0.6 0 0 1 -0.2,-0.9 L-0.5,-0.4 L-0.3,-0.2 L0.1,-0.5 A0.6,0.6 0 0 1 -0.4,0.1 M-0.2,-0.1 L0.9,0.9","size":340,"filled":false,"stroke":"#151515","strokeWidth":3.2,"opacity":1},"encoding":{}},
{"data":{"values":[{"t":-11.13,"v":2.382},{"t":10.81,"v":2.419},{"t":10.55,"v":1.591}]},"mark":{"type":"point","shape":"M-1,0 L1,0","size":324,"filled":false,"stroke":"#151515","strokeWidth":3.2,"opacity":1},"encoding":{}},
{"data":{"values":[{"t":-9.38,"v":2.428},{"t":12.57,"v":2.464},{"t":12.31,"v":1.634}]},"mark":{"type":"point","shape":"M-1,-1 L1,1 M-1,1 L1,-1","size":230,"filled":false,"stroke":"#151515","strokeWidth":3.6,"opacity":1},"encoding":{}},
{"data":{"name":"boxes"},"transform":[{"filter":"datum.kind=='glow'"}],"mark":{"type":"rect","fill":"#0a66ff","fillOpacity":0.9,"cornerRadius":9},"encoding":{"x2":{"field":"t2"},"y2":{"field":"v2"}}},
{"data":{"name":"boxes"},"transform":[{"filter":"datum.kind=='icon'"}],"mark":{"type":"rect","fill":"#5a4a30","stroke":"#2a2a2a","strokeWidth":1,"cornerRadius":5},"encoding":{"x2":{"field":"t2"},"y2":{"field":"v2"}}},
{"data":{"values":[{"t":-11.77,"v":1.761},{"t":-10.62,"v":1.761},{"t":9.92,"v":0.946},{"t":11.07,"v":0.946}]},"mark":{"type":"point","shape":"M-0.35,-1 L-0.35,1 M0.35,-1 L0.35,1","size":784,"filled":false,"stroke":"#d8d0c0","strokeWidth":1,"opacity":1},"encoding":{}},
{"data":{"values":[{"t":-12.91,"v":1.761},{"t":-11.77,"v":1.761},{"t":-10.62,"v":1.761},{"t":8.77,"v":0.946},{"t":9.92,"v":0.946},{"t":11.07,"v":0.946},{"t":12.46,"v":1.0}]},"mark":{"type":"point","shape":"M-1,0 C-0.7,-0.5 -0.3,-0.5 0,0 C0.3,0.5 0.7,0.5 1,0","size":784,"filled":false,"stroke":"#3a2ac8","strokeWidth":1.2,"opacity":1},"encoding":{}},
{"data":{"values":[{"t":-9.24,"v":1.761}]},"mark":{"type":"point","shape":"M-1,0 C-0.7,-0.4 -0.3,-0.4 0,0 C0.3,0.4 0.7,0.4 1,0","size":784,"filled":false,"stroke":"#e060e0","strokeWidth":1.5,"opacity":1,"yOffset":-7},"encoding":{}},
{"data":{"values":[{"t":-9.24,"v":1.735,"label":"Ch2"},{"t":-9.24,"v":1.694,"label":"Wfm1"}]},"mark":{"type":"text","font":"Liberation Sans","fontSize":8.5,"fontWeight":"bold","align":"center","baseline":"middle","color":"#ee66ee"},"encoding":{"text":{"field":"label"}}},
{"data":{"values":[{"t":12.46,"v":0.947,"label":"Ch1"},{"t":12.46,"v":0.897,"label":"Wfm1"}]},"mark":{"type":"text","font":"Liberation Sans","fontSize":8.5,"fontWeight":"bold","align":"center","baseline":"middle","color":"#2a2ad0"},"encoding":{"text":{"field":"label"}}},
{"data":{"values":[{"t":-15.06,"v":2.279,"label":"t1"},{"t":-15.06,"v":2.175,"label":"t2"},{"t":-15.06,"v":2.072,"label":"Δt"},{"t":-15.06,"v":1.962,"label":"1/Δt"},{"t":-15.09,"v":1.755,"label":"Type"},{"t":6.6,"v":1.469,"label":"t1"},{"t":6.6,"v":1.366,"label":"t2"},{"t":6.6,"v":1.262,"label":"Δt"},{"t":6.6,"v":1.159,"label":"1/Δt"},{"t":6.6,"v":0.946,"label":"Type"},{"t":4.52,"v":2.297,"label":"Max"},{"t":4.52,"v":2.151,"label":"Peak to peak"},{"t":4.52,"v":1.999,"label":"RMS"},{"t":4.52,"v":1.85,"label":"Frequency"}]},"mark":{"type":"text","font":"DejaVu Sans","fontSize":14.5,"fontWeight":"bold","align":"left","baseline":"middle","color":"#1c1c1c"},"encoding":{"text":{"field":"label"}}},
{"data":{"values":[{"t":-8.83,"v":2.279,"label":"-14.72 ns"},{"t":-8.83,"v":2.175,"label":"-9.72 ns"},{"t":12.85,"v":1.469,"label":"-5.36 ns"},{"t":12.85,"v":1.366,"label":"2.64 ns"}]},"mark":{"type":"text","font":"DejaVu Sans","fontSize":15,"fontWeight":"bold","align":"right","baseline":"middle","color":"#f0f0f0"},"encoding":{"text":{"field":"label"}}},
{"data":{"values":[{"t":-8.7,"v":2.072,"label":"5 ns"},{"t":-8.7,"v":1.962,"label":"200 MHz"},{"t":13,"v":1.262,"label":"8 ns"},{"t":13,"v":1.159,"label":"125.00000...MHz"},{"t":13.13,"v":2.297,"label":"1.8182 V"},{"t":13.13,"v":2.151,"label":"3.3399 V"},{"t":13.13,"v":1.999,"label":"372.15 mV"},{"t":13.13,"v":1.85,"label":"---"}]},"mark":{"type":"text","font":"DejaVu Sans","fontSize":14.5,"fontWeight":"bold","align":"right","baseline":"middle","color":"#1c1c1c"},"encoding":{"text":{"field":"label"}}},
{"data":{"values":[{"t":16.95,"v":2.467,"label":"Horizontal settings"},{"t":17.05,"v":2.035,"label":"Trigger settings"}]},"mark":{"type":"text","font":"DejaVu Sans","fontSize":14,"fontWeight":"bold","align":"center","baseline":"middle","color":"#222222"},"encoding":{"text":{"field":"label"}}},
{"data":{"values":[{"t":19.92,"v":2.254,"label":"IT"}]},"mark":{"type":"text","font":"DejaVu Sans","fontSize":14,"fontWeight":"bold","align":"left","baseline":"middle","color":"#222222"},"encoding":{"text":{"field":"label"}}},
{"data":{"values":[{"t":13.68,"v":2.358,"label":"Res:"},{"t":15.81,"v":2.358,"label":"40 ps / 25 GSa/s"},{"t":13.68,"v":2.145,"label":"Scl:"},{"t":15.81,"v":2.145,"label":"4 ns/div"},{"t":13.68,"v":1.926,"label":"Mode:"},{"t":13.68,"v":1.822,"label":"Type-A:"},{"t":15.81,"v":1.822,"label":"Edge"},{"t":13.68,"v":1.719,"label":"Offset:"},{"t":15.81,"v":1.719,"label":"-15.28 ns"},{"t":13.68,"v":1.609,"label":"Level:"},{"t":15.81,"v":1.609,"label":"596.1 mV"}]},"mark":{"type":"text","font":"DejaVu Sans","fontSize":14,"align":"left","baseline":"middle","color":"#3a3a3a"},"encoding":{"text":{"field":"label"}}},
{"data":{"values":[{"t":13.68,"v":2.254,"label":"Rec len:"},{"t":15.81,"v":2.254,"label":"1 kSa"}]},"mark":{"type":"text","font":"DejaVu Sans","fontSize":14,"align":"left","baseline":"middle","color":"#888888"},"encoding":{"text":{"field":"label"}}},
{"data":{"values":[{"t":15.81,"v":1.926,"label":"Auto"}]},"mark":{"type":"text","font":"DejaVu Sans","fontSize":14,"align":"left","baseline":"middle","color":"#2255ee"},"encoding":{"text":{"field":"label"}}},
{"data":{"values":[{"t":17.86,"v":1.822,"label":"Ch2"}]},"mark":{"type":"text","font":"DejaVu Sans","fontSize":14,"align":"left","baseline":"middle","color":"#ff22ee"},"encoding":{"text":{"field":"label"}}},
{"data":{"values":[{"t":17.41,"v":1.822}]},"mark":{"type":"point","shape":"M-1,1 L-0.1,1 L-0.1,-1 L1,-1 M-0.5,0 L-0.1,-0.5 L0.3,0","size":196,"filled":false,"stroke":"#333333","strokeWidth":1.6,"opacity":1},"encoding":{}},
{"data":{"name":"boxes"},"transform":[{"filter":"datum.kind=='ch1body'"}],"mark":{"type":"rect","fill":"#dcdcff","stroke":"#1010ff","strokeWidth":2.5,"cornerRadius":9},"encoding":{"x2":{"field":"t2"},"y2":{"field":"v2"}}},
{"data":{"name":"boxes"},"transform":[{"filter":"datum.kind=='ch1head'"}],"mark":{"type":"rect","fill":"#1010ff","cornerRadiusTopLeft":9,"cornerRadiusTopRight":9},"encoding":{"x2":{"field":"t2"},"y2":{"field":"v2"}}},
{"data":{"name":"boxes"},"transform":[{"filter":"datum.kind=='ch2body'"}],"mark":{"type":"rect","fill":"#ffffff","stroke":"#a8a8a8","strokeWidth":2.5,"cornerRadius":9},"encoding":{"x2":{"field":"t2"},"y2":{"field":"v2"}}},
{"data":{"name":"boxes"},"transform":[{"filter":"datum.kind=='ch2head'"}],"mark":{"type":"rect","fill":"#ff10f0","cornerRadiusTopLeft":9,"cornerRadiusTopRight":9},"encoding":{"x2":{"field":"t2"},"y2":{"field":"v2"}}},
{"data":{"name":"boxes"},"transform":[{"filter":"datum.kind=='gold'"}],"mark":{"type":"rect","cornerRadius":4,"stroke":"#504020","strokeWidth":1,"fill":{"gradient":"linear","x1":0,"y1":0,"x2":0,"y2":1,"stops":[{"offset":0,"color":"#7a5a10"},{"offset":1,"color":"#e0a020"}]}},"encoding":{"x2":{"field":"t2"},"y2":{"field":"v2"}}},
{"data":{"values":[{"t":19.0,"v":1.241},{"t":19.0,"v":0.395}]},"mark":{"type":"point","shape":"M-1,0 L1,0","size":100,"filled":false,"stroke":"#151515","strokeWidth":2,"opacity":1},"encoding":{}},
{"data":{"values":[{"t":16.69,"v":1.244,"label":"Ch1Wfm1"},{"t":16.69,"v":0.392,"label":"Ch2Wfm1"}]},"mark":{"type":"text","font":"DejaVu Sans","fontSize":14,"align":"center","baseline":"middle","color":"#f4f4ff"},"encoding":{"text":{"field":"label"}}},
{"data":{"values":[{"t":14.96,"v":1.116,"label":"Pos:"},{"t":16.07,"v":1.116,"label":"0 div"},{"t":14.96,"v":0.909,"label":"Scl:"},{"t":16.07,"v":0.909,"label":"500 mV/div"},{"t":14.96,"v":0.8,"label":"Cpl:"},{"t":16.07,"v":0.8,"label":"DC 50Ω"},{"t":14.96,"v":0.696,"label":"Dec:"},{"t":16.07,"v":0.696,"label":"Sa | TA: Off"},{"t":14.96,"v":0.27,"label":"Pos:"},{"t":16.07,"v":0.27,"label":"-5 div"},{"t":14.96,"v":0.063,"label":"Scl:"},{"t":16.07,"v":0.063,"label":"1 V/div"},{"t":14.96,"v":-0.04,"label":"Cpl:"},{"t":16.07,"v":-0.04,"label":"DC 50Ω"},{"t":14.96,"v":-0.144,"label":"Dec:"},{"t":16.07,"v":-0.144,"label":"Sa | TA: Off"}]},"mark":{"type":"text","font":"DejaVu Sans","fontSize":14,"align":"left","baseline":"middle","color":"#303030"},"encoding":{"text":{"field":"label"}}},
{"data":{"values":[{"t":14.96,"v":1.013,"label":"Off:"},{"t":16.07,"v":1.013,"label":"0 V"},{"t":14.96,"v":0.167,"label":"Off:"},{"t":16.07,"v":0.167,"label":"0 V"}]},"mark":{"type":"text","font":"DejaVu Sans","fontSize":14,"align":"left","baseline":"middle","color":"#909090"},"encoding":{"text":{"field":"label"}}},
{"data":{"values":[{"t":-20.8,"v":0.063,"label":"HF"},{"t":-20.8,"v":-0.065,"label":"OUT"},{"t":-20.77,"v":-2.201,"label":"SYNC"},{"t":-20.77,"v":-2.323,"label":"PULSE"}]},"mark":{"type":"text","font":"DejaVu Sans Mono","fontSize":14,"fontWeight":"bold","align":"center","baseline":"middle","color":"#111111"},"encoding":{"text":{"field":"label"}}},
{"data":{"values":[{"t":-14.73,"v":-1.951,"label":"C1.1"},{"t":-9.73,"v":-1.951,"label":"C1.2"}]},"mark":{"type":"text","font":"Liberation Sans","fontSize":11.5,"align":"center","baseline":"middle","color":"#f040f0"},"encoding":{"text":{"field":"label"}}},
{"data":{"values":[{"t":-5.37,"v":-1.951,"label":"C2.1"},{"t":2.53,"v":-1.951,"label":"C2.2"}]},"mark":{"type":"text","font":"Liberation Sans","fontSize":11.5,"align":"center","baseline":"middle","color":"#2a2aee"},"encoding":{"text":{"field":"label"}}},
{"data":{"values":[{"t":-19.53,"v":-0.004}]},"mark":{"type":"point","shape":"M-1,-0.7 L0.4,-0.7 L1,0 L0.4,0.7 L-1,0.7 Z","size":900,"filled":false,"stroke":"#2a2aee","strokeWidth":1.3,"opacity":1},"encoding":{}},
{"data":{"values":[{"t":-19.78,"v":-0.004,"label":"C1"},{"t":-18.98,"v":-0.004,"label":"V"}]},"mark":{"type":"text","font":"Liberation Sans","fontSize":13,"align":"center","baseline":"middle","color":"#2a2aee"},"encoding":{"text":{"field":"label"}}},
{"data":{"values":[{"t":-19.45,"v":-2.5}]},"mark":{"type":"point","shape":"M-1,-0.7 L0.4,-0.7 L1,0 L0.4,0.7 L-1,0.7 Z","size":1000,"filled":false,"stroke":"#f060f0","strokeWidth":1.3,"opacity":1},"encoding":{}},
{"data":{"values":[{"t":-19.65,"v":-2.47,"label":"C2"}]},"mark":{"type":"text","font":"Liberation Sans","fontSize":10,"align":"center","baseline":"middle","color":"#f060f0"},"encoding":{"text":{"field":"label"}}},
{"data":{"values":[{"t":19.52,"v":-2.207}]},"mark":{"type":"point","shape":"M1,-0.7 L-0.4,-0.7 L-1,0 L-0.4,0.7 L1,0.7 Z","size":900,"filled":false,"stroke":"#f09090","strokeWidth":1.3,"opacity":1},"encoding":{}},
{"data":{"values":[{"t":19.6,"v":-2.207,"label":"TA"}]},"mark":{"type":"text","font":"Liberation Sans","fontSize":14,"align":"center","baseline":"middle","color":"#e88080"},"encoding":{"text":{"field":"label"}}},
{"data":{"values":[{"t":-20,"v":2.5}]},"mark":{"type":"point","opacity":0,"size":1},
 "encoding":{
  "x":{"field":"t","type":"quantitative","title":null,"scale":{"domain":[-20,20],"nice":false,"zero":false},
   "axis":{"orient":"bottom","values":[-16,-12,-8,-4,0,4,8,12,16,20],"domain":false,"ticks":false,"grid":false,"zindex":1,"title":null,"labelFlush":true,"labelFont":"Liberation Sans","labelFontSize":14,"labelColor":{"condition":{"test":"datum.value>=16","value":"#5a5af0"},"value":"#2020f0"},"labelPadding":-17.5,"labelBaseline":"middle","labelExpr":"datum.value===0?'0 s':datum.value+' ns'","labelOverlap":false}},
  "y":{"field":"v","type":"quantitative","title":null,"scale":{"domain":[-2.5,2.5],"nice":false,"zero":false},
   "axis":{"orient":"left","values":[-2.5,-2,-1.5,-1,-0.5,0.5,1,1.5,2,2.5],"domain":false,"ticks":false,"grid":false,"zindex":1,"title":null,"labelFlush":true,"labelFlushOffset":-4,"labelFont":"Liberation Sans","labelFontSize":14,"labelColor":"#2020f0","labelAlign":"left","labelPadding":-16,"labelOverlap":false,"labelExpr":"abs(datum.value)>=1?datum.value+' V':(datum.value*1000)+' mV'"}}}}
],
"encoding":{
 "x":{"field":"t","type":"quantitative","title":null,"scale":{"domain":[-20,20],"nice":false,"zero":false},"axis":null},
 "y":{"field":"v","type":"quantitative","title":null,"scale":{"domain":[-2.5,2.5],"nice":false,"zero":false},"axis":null}
},
"resolve":{"axis":{"x":"independent","y":"independent"}}
}
